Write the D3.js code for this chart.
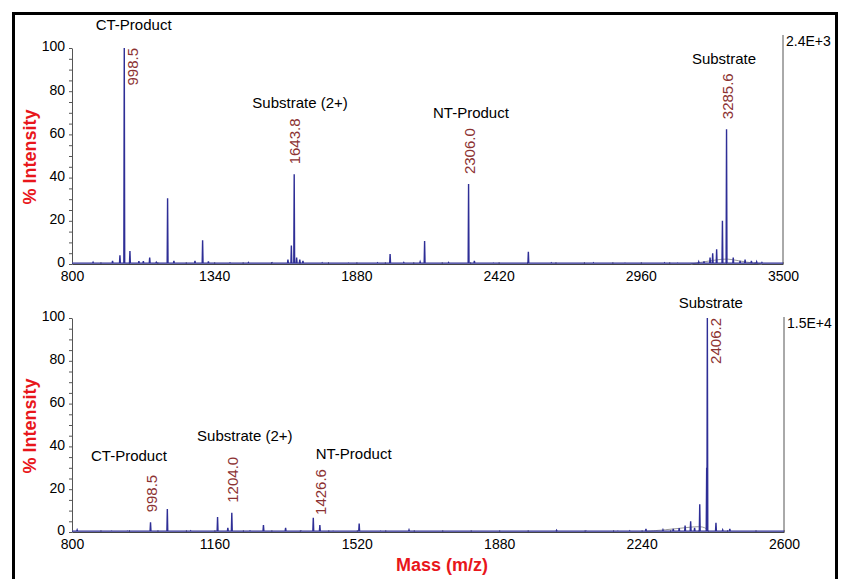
<!DOCTYPE html>
<html>
<head>
<meta charset="utf-8">
<script src="https://d3js.org/d3.v7.min.js"></script>
<style>
body { margin: 0; background: #fff; }
svg text { font-family: "Liberation Sans", Arial, sans-serif; }
</style>
</head>
<body>
<svg width="843" height="579"></svg>
<script>
// ---- top spectrum (m/z, % intensity) ----
const topPeaks = [
  [954, 1.5], [982, 4], [998.5, 100], [1020, 6], [1054, 1.3], [1071, 1.3], [1095, 3],
  [1163, 30.4], [1187, 1.5], [1267, 1.5], [1296, 11], [1318, 1.2],
  [1620, 2], [1633, 8.5], [1643.8, 41.5], [1653, 3], [1665, 2], [1677, 1.5],
  [2008, 4.6], [2122, 1], [2139, 10.6], [2306.0, 37], [2328, 1.5], [2533, 5.7],
  [3223, 3], [3233, 5], [3248, 6.8], [3270, 20], [3285.6, 62.4], [3311, 3], [3337, 1.5], [3356, 2]
];
const topNoise = [
  [880, 0.8], [1120, 0.8], [1400, 0.6], [1470, 0.7], [1560, 0.6], [1750, 0.6], [1850, 0.5],
  [1960, 0.6], [2060, 0.7], [2230, 0.7], [2400, 0.5], [2620, 0.6], [2780, 0.6], [2900, 0.5],
  [3050, 0.6], [3100, 0.5], [3180, 1], [3200, 1.2], [3380, 1.5], [3400, 1], [3420, 0.7]
];
const topHump = [[3150, 0], [3200, 1], [3250, 2], [3290, 2.5], [3330, 1.5], [3380, 0.5], [3420, 0]];
const topTicks = [800, 1340, 1880, 2420, 2960, 3500];
const topLabels = ["998.5", "1643.8", "2306.0", "3285.6"];
const topGroups = [["CT-Product", 1034, 108.3], ["Substrate (2+)", 1666, 72.2], ["NT-Product", 2315, 67.6], ["Substrate", 3276, 92.6]];
const topMax = "2.4E+3";

// ---- bottom spectrum ----
const botPeaks = [
  [813, 1], [998.5, 4.5], [1041, 10.7], [1168, 7], [1194, 2], [1204.0, 9], [1284, 3.3],
  [1340, 2], [1410, 6.7], [1426.6, 3.3], [1526, 4], [1652, 1], [2025, 0.8], [2251, 1.5],
  [2294, 1], [2350, 3], [2364, 5], [2374, 2], [2387, 13], [2404.5, 30], [2406.2, 100],
  [2428, 4.3], [2445, 1], [2463, 1.5]
];
const botNoise = [
  [900, 0.5], [940, 0.5], [1100, 0.6], [1250, 0.6], [1380, 0.5], [1460, 0.5], [1580, 0.5],
  [1720, 0.4], [1800, 0.4], [1900, 0.4], [2100, 0.5], [2180, 0.5], [2210, 0.6], [2320, 1.5], [2335, 1.8]
];
const botHump = [[2250, 0.3], [2300, 1], [2350, 2], [2400, 3], [2410, 0]];
const botTicks = [800, 1160, 1520, 1880, 2240, 2600];
const botLabels = ["998.5", "1204.0", "1426.6", "2406.2"];
const botGroups = [["Substrate", 2415, 104.7], ["CT-Product", 944, 33.2], ["Substrate (2+)", 1237, 42.5], ["NT-Product", 1512, 34.1]];
const botMax = "1.5E+4";

let svg = d3.select("svg");

// outer frame
svg.append("rect")
  .attr("x", 13.5).attr("y", 13.5)
  .attr("width", 823).attr("height", 700)
  .attr("fill", "none")
  .attr("stroke", "#000")
  .attr("stroke-width", 3);

function drawPanel(p) {
  let x = d3.scaleLinear().domain([p.ticks[0], p.ticks[p.ticks.length - 1]]).range([72, p.right]);
  let y = d3.scaleLinear().domain([0, 100]).range([p.bottom, p.top]);
  let g = svg.append("g");

  // right side frame line + scale
  g.append("line")
    .attr("x1", p.right).attr("x2", p.right)
    .attr("y1", p.maxY).attr("y2", p.bottom)
    .attr("stroke", "#555").attr("stroke-width", 1);
  g.append("text")
    .attr("x", p.right + 3).attr("y", p.maxY + 11)
    .style("font-size", "14px")
    .text(p.max);

  // y axis
  let ya = g.append("g")
    .attr("transform", "translate(72,0)")
    .call(d3.axisLeft(y).tickValues(d3.range(0, 101, 5)).tickSize(3).tickSizeOuter(0).tickPadding(4)
      .tickFormat(d => d % 20 === 0 ? d : ""));
  ya.selectAll("text").style("font-size", "14px").style("fill", "#000").attr("font-family", null)
    .attr("dy", "0.2em");
  ya.selectAll("line, path").attr("stroke", "#555");

  // x axis
  let xa = g.append("g")
    .attr("transform", "translate(0," + p.bottom + ")")
    .call(d3.axisBottom(x).tickValues(p.ticks).tickSize(0).tickPadding(7).tickFormat(d3.format("d")));
  xa.selectAll("text").style("font-size", "14px").style("fill", "#000").attr("font-family", null);
  xa.select("path").attr("stroke", "#444");

  let step = (p.ticks[1] - p.ticks[0]) / 5;
  let minor = g.append("g")
    .attr("transform", "translate(0," + p.bottom + ")")
    .call(d3.axisBottom(x).tickValues(d3.range(p.ticks[0], p.ticks[p.ticks.length - 1] + 1, step))
      .tickSize(-2).tickFormat(""));
  minor.select("path").remove();
  minor.selectAll("line").attr("stroke", "#777");

  // grey envelope
  g.append("path")
    .datum(p.hump)
    .attr("d", d3.line().x(d => x(d[0])).y(d => y(d[1])).curve(d3.curveBasis))
    .attr("fill", "none")
    .attr("stroke", "#9a9a9a")
    .attr("stroke-width", 1);

  // spectrum trace
  let all = p.peaks.concat(p.noise).sort((a, b) => a[0] - b[0]);
  let pts = [[x.domain()[0], 0.4]];
  all.forEach(d => {
    pts.push([d[0] - p.w, 0.4]);
    pts.push([d[0], d[1]]);
    pts.push([d[0] + p.w, 0.4]);
  });
  pts.push([x.domain()[1], 0.4]);
  g.append("path")
    .datum(pts)
    .attr("d", d3.line().x(d => x(d[0])).y(d => y(d[1])))
    .attr("fill", "none")
    .attr("stroke", "#2e2e96")
    .attr("stroke-width", 1.4);

  // peak m/z labels
  p.labels.forEach(lab => {
    let pk = p.peaks.find(d => d[0] === +lab);
    let px = x(pk[0]);
    let t = g.append("text")
      .attr("dy", "0.35em")
      .style("font-size", "15px")
      .style("fill", "#8c3232")
      .text(lab);
    if (pk[1] >= 99) {
      t.attr("transform", "translate(" + (px + 8) + "," + p.top + ") rotate(-90)")
        .style("text-anchor", "end");
    } else {
      t.attr("transform", "translate(" + (px + 1) + "," + (y(pk[1]) - 10) + ") rotate(-90)")
        .style("text-anchor", "start");
    }
  });

  // group names
  g.selectAll(".grp")
    .data(p.groups)
    .enter()
    .append("text")
    .attr("x", d => x(d[1]))
    .attr("y", d => y(d[2]))
    .style("text-anchor", "middle")
    .style("font-size", "15px")
    .style("fill", "#000")
    .text(d => d[0]);

  // y title
  g.append("text")
    .attr("transform", "translate(30," + ((p.top + p.bottom) / 2 + 1) + ") rotate(-90)")
    .attr("dy", "0.35em")
    .style("text-anchor", "middle")
    .style("font-size", "18px")
    .style("font-weight", "bold")
    .style("fill", "#e8161b")
    .text("% Intensity");
}

drawPanel({ peaks: topPeaks, noise: topNoise, hump: topHump, ticks: topTicks, labels: topLabels,
  groups: topGroups, max: topMax, right: 783, top: 48, bottom: 264, maxY: 35, w: 1.6 });
drawPanel({ peaks: botPeaks, noise: botNoise, hump: botHump, ticks: botTicks, labels: botLabels,
  groups: botGroups, max: botMax, right: 784, top: 318, bottom: 532, maxY: 317, w: 1.1 });

svg.append("text")
  .attr("x", 442).attr("y", 571)
  .style("text-anchor", "middle")
  .style("font-size", "18px")
  .style("font-weight", "bold")
  .style("fill", "#e8161b")
  .text("Mass (m/z)");
</script>
</body>
</html>
